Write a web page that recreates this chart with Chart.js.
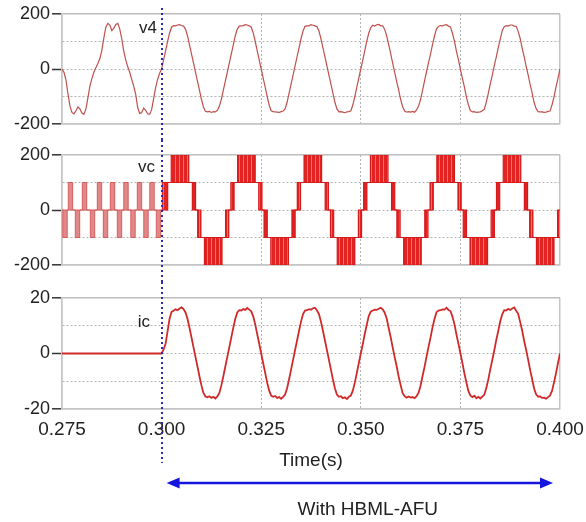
<!DOCTYPE html>
<html>
<head>
<meta charset="utf-8">
<script src="https://cdn.jsdelivr.net/npm/chart.js@4.4.0/dist/chart.umd.min.js"></script>
<style>
html,body{margin:0;padding:0;background:#fff;}
#wrap{position:relative;width:586px;height:522px;overflow:hidden;background:#fff;}
canvas{position:absolute;left:0;}
#c1{top:0;}
#c2{top:140px;}
#c3{top:282px;}
</style>
</head>
<body>
<div id="wrap">
<canvas id="c1" width="586" height="140"></canvas>
<canvas id="c2" width="586" height="142"></canvas>
<canvas id="c3" width="586" height="240"></canvas>
</div>
<script>
// ---------- data ----------
const sampleStart = 0.275;   // s, first sample of v4 / ic
const sampleStep = 0.0005;   // s, spacing of the v4 / ic samples
const timeTicks = [0.275, 0.300, 0.325, 0.350, 0.375, 0.400];
const switchTime = 0.300;
const voltTicks = [-200, -100, 0, 100, 200];
const voltLabels = [-200, 0, 200];
const currTicks = [-20, -10, 0, 10, 20];
const currLabels = [-20, 0, 20];
const panelNames = ['v4', 'vc', 'ic'];
const bottomNote = 'With HBML-AFU';
const axisTitle = 'Time(s)';

const v4Values = [
  0,-12,-40,-90,-135,-158,-163,-152,-138,-145,
  -160,-165,-145,-105,-62,-35,-12,5,20,38,
  68,112,152,166,160,140,148,162,166,145,
  110,65,33,8,-12,-38,-62,-92,-140,-162,
  -158,-142,-150,-163,-165,-148,-108,-68,-38,-15,
  0,33,66,100,131,152,158,157,160,161,
  158,156,145,121,88,55,22,-11,-44,-77,
  -110,-138,-154,-156,-154,-158,-155,-156,-150,-136,
  -110,-77,-44,-11,22,55,88,121,145,156,
  157,158,161,160,157,152,131,100,66,33,
  0,-33,-66,-100,-131,-152,-155,-156,-157,-158,
  -155,-153,-145,-121,-88,-55,-22,11,44,77,
  110,138,155,157,157,161,159,157,154,138,
  110,77,44,11,-22,-55,-88,-121,-145,-156,
  -155,-157,-159,-156,-155,-152,-131,-100,-66,-33,
  0,32,67,101,130,151,159,156,161,162,
  157,157,144,120,89,56,21,-12,-45,-76,
  -111,-137,-153,-157,-155,-157,-154,-157,-149,-135,
  -111,-78,-43,-10,23,54,89,120,146,155,
  158,157,160,161,156,153,130,101,65,34,
  -1,-34,-65,-101,-130,-151,-156,-155,-158,-157,
  -156,-152,-146,-120,-89,-54,-23,12,43,78,
  109,139,154,158,156,160,160,156,155,137,
  111,76,45,10,-21,-56,-87,-122,-144,-155,
  -156,-156,-158,-157,-154,-153,-130,-101,-65,-34,
  0
];

const icValues = [
  0,0,0,0,0,0,0,0,0,0,
  0,0,0,0,0,0,0,0,0,0,
  0,0,0,0,0,0,0,0,0,0,
  0,0,0,0,0,0,0,0,0,0,
  0,0,0,0,0,0,0,0,0,0,
  0,1.5,3.5,8,12.5,15.0,15.4,15.9,15.6,16.2,
  16.6,16.0,14.8,12.5,9.3,5.8,2.3,-1.2,-4.7,-8.2,
  -11.5,-14.2,-15.5,-15.8,-15.4,-16.0,-15.6,-16.2,-15.5,-14.2,
  -11.5,-8.2,-4.7,-1.2,2.3,5.8,9.3,12.5,14.8,15.6,
  15.5,16.0,15.7,16.4,15.8,15.2,13.4,10.5,7.0,3.5,
  0,-3.5,-7.0,-10.5,-13.4,-15.2,-15.6,-15.3,-16.0,-15.7,
  -16.3,-15.6,-14.8,-12.5,-9.3,-5.8,-2.3,1.2,4.7,8.2,
  11.5,14.2,15.5,15.6,16.0,15.8,16.3,16.5,15.5,14.2,
  11.5,8.2,4.7,1.2,-2.3,-5.8,-9.3,-12.5,-14.8,-15.6,
  -15.4,-16.1,-15.8,-16.4,-15.6,-15.2,-13.4,-10.5,-7.0,-3.5,
  0,3.4,7.1,10.4,13.5,15.1,15.5,15.8,15.7,16.1,
  16.5,15.9,14.7,12.6,9.2,5.9,2.2,-1.3,-4.6,-8.3,
  -11.4,-14.3,-15.4,-15.9,-15.5,-15.9,-15.7,-16.1,-15.4,-14.1,
  -11.6,-8.1,-4.8,-1.1,2.4,5.7,9.4,12.4,14.9,15.5,
  15.6,15.9,15.8,16.5,15.7,15.3,13.3,10.6,6.9,3.6,
  0.1,-3.4,-7.1,-10.4,-13.5,-15.1,-15.7,-15.2,-16.1,-15.6,
  -16.2,-15.5,-14.9,-12.4,-9.4,-5.7,-2.4,1.1,4.8,8.1,
  11.6,14.1,15.6,15.5,16.1,15.7,16.2,16.6,15.4,14.3,
  11.4,8.3,4.6,1.3,-2.2,-5.9,-9.2,-12.6,-14.7,-15.5,
  -15.5,-16.0,-15.9,-16.3,-15.7,-15.1,-13.5,-10.4,-7.1,-3.4,
  0
];

// vc before the switch-on: narrow +/-100 pulses (segment start, low, high)
const vcPreTime = [0.27500,0.27520,0.27630,0.27658,0.27768,0.27834,0.27944,0.28010,0.28120,
  0.28211,0.28321,0.28386,0.28496,0.28537,0.28647,0.28713,0.28823,0.28888,0.28998,
  0.29051,0.29161,0.29227,0.29337,0.29390,0.29500,0.29553,0.29663,0.29704,0.29814,
  0.29867,0.29977,0.30000];
const vcPreLow = [0,-100,0,0,0,-100,0,0,0,
  -100,0,0,0,-100,0,0,0,-100,0,
  0,0,-100,0,0,0,-100,0,0,0,
  -100,0,0];
const vcPreHigh = [0,0,0,100,0,0,0,100,0,
  0,0,100,0,0,0,100,0,0,0,
  100,0,0,0,100,0,0,0,100,0,
  0,0,0];

// vc after the switch-on: multilevel staircase (segment start, low, high)
const vcPostTime = [
  0.30000,0.30152,0.30242,0.30682,0.30772,0.30852,
  0.30906,0.30986,0.31076,0.31516,0.31606,0.31686,
  0.31739,0.31819,0.31909,0.32349,0.32439,0.32519,
  0.32572,0.32652,0.32742,0.33182,0.33272,0.33352,
  0.33406,0.33486,0.33576,0.34016,0.34106,0.34186,
  0.34239,0.34319,0.34409,0.34849,0.34939,0.35019,
  0.35072,0.35152,0.35242,0.35682,0.35772,0.35852,
  0.35906,0.35986,0.36076,0.36516,0.36606,0.36686,
  0.36739,0.36819,0.36909,0.37349,0.37439,0.37519,
  0.37572,0.37652,0.37742,0.38182,0.38272,0.38352,
  0.38406,0.38486,0.38576,0.39016,0.39106,0.39186,
  0.39239,0.39319,0.39409,0.39849,0.39939,0.40000];
const vcPostLow = [
  0,100,100,100,0,0,
  -100,-100,-200,-100,-100,0,
  0,100,100,100,0,0,
  -100,-100,-200,-100,-100,0,
  0,100,100,100,0,0,
  -100,-100,-200,-100,-100,0,
  0,100,100,100,0,0,
  -100,-100,-200,-100,-100,0,
  0,100,100,100,0,0,
  -100,-100,-200,-100,-100,0,
  0,100,100,100,0,0,
  -100,-100,-200,-100,-100,-100];
const vcPostHigh = [
  100,100,200,100,100,0,
  0,-100,-100,-100,0,0,
  100,100,200,100,100,0,
  0,-100,-100,-100,0,0,
  100,100,200,100,100,0,
  0,-100,-100,-100,0,0,
  100,100,200,100,100,0,
  0,-100,-100,-100,0,0,
  100,100,200,100,100,0,
  0,-100,-100,-100,0,0,
  100,100,200,100,100,0,
  0,-100,-100,-100,0,0];

// ---------- chart building ----------
const FONT = '"Liberation Sans", Arial, Helvetica, sans-serif';
const near = (a, b) => Math.abs(a - b) < 1e-9;
const tMin = timeTicks[0], tMax = timeTicks[timeTicks.length - 1];

function sampled(vals) { return vals.map((v, i) => ({x: sampleStart + i * sampleStep, y: v})); }
function zipped(ts, vs) { return ts.map((t, i) => ({x: t, y: vs[i]})); }

function xAxis(showLabels, height) {
  const edge = v => near(v, tMin) || near(v, tMax);
  return {
    type: 'linear', min: tMin, max: tMax,
    afterBuildTicks: s => { s.ticks = timeTicks.map(v => ({value: v})); },
    afterFit: s => { s.height = height; s.paddingLeft = 0; s.paddingRight = 0; },
    ticks: {
      display: showLabels, autoSkip: false, maxRotation: 0, minRotation: 0, padding: 9,
      color: '#222', font: {family: FONT, size: 19},
      callback: v => Number(v).toFixed(3)
    },
    grid: {
      drawTicks: false,
      color: c => !c.tick ? '#c4c4c4' : (near(c.tick.value, switchTime) ? 'rgba(0,0,0,0)' : (edge(c.tick.value) ? '#c4c4c4' : '#b2b2b2')),
      lineWidth: c => (c.tick && edge(c.tick.value)) ? 1.5 : 1
    },
    border: {display: true, color: '#c4c4c4', width: 1.5,
      dash: c => (c.tick && !edge(c.tick.value)) ? [2, 2] : []},
    title: showLabels ? {display: true, text: axisTitle, color: '#222',
      font: {family: FONT, size: 19}, padding: {top: 0, bottom: 50}} : {display: false}
  };
}

function yAxis(ticksArr, labels) {
  const lo = ticksArr[0], hi = ticksArr[ticksArr.length - 1];
  const edge = v => near(v, lo) || near(v, hi);
  return {
    type: 'linear', min: lo, max: hi,
    afterBuildTicks: s => { s.ticks = ticksArr.map(v => ({value: v})); },
    afterFit: s => { s.width = 62; },
    ticks: {
      autoSkip: false, padding: 2, color: '#222', font: {family: FONT, size: 18},
      callback: v => labels.includes(v) ? String(v) : ''
    },
    grid: {
      tickLength: 10, tickWidth: 1.5,
      tickColor: c => (c.tick && labels.includes(c.tick.value)) ? '#333' : 'rgba(0,0,0,0)',
      color: c => (c.tick && edge(c.tick.value)) ? '#bdbdbd' : '#b2b2b2',
      lineWidth: c => (c.tick && edge(c.tick.value)) ? 1.6 : 1
    },
    border: {display: true, color: '#c4c4c4', width: 1.5,
      dash: c => (c.tick && !edge(c.tick.value)) ? [2, 2] : []}
  };
}

const marker = {
  id: 'marker',
  afterDraw(chart, args, o) {
    const {ctx} = chart;
    const x = chart.scales.x, y = chart.scales.y;
    ctx.save();
    if (o.label) {
      ctx.font = '17px ' + FONT;
      ctx.fillStyle = '#222';
      ctx.textAlign = 'right';
      ctx.textBaseline = 'middle';
      ctx.fillText(o.label, x.getPixelForValue(o.lx), y.getPixelForValue(o.ly));
    }
    const px = Math.round(x.getPixelForValue(switchTime));
    ctx.strokeStyle = '#2a2ab5';
    ctx.lineWidth = 2;
    ctx.setLineDash([2, 3]);
    ctx.beginPath();
    ctx.moveTo(px, o.from);
    ctx.lineTo(px, o.to);
    ctx.stroke();
    ctx.setLineDash([]);
    if (o.arrow) {
      const xa = x.getPixelForValue(switchTime) + 5;
      const xb = x.getPixelForValue(tMax) - 7;
      const ya = o.arrowY;
      ctx.strokeStyle = '#1515e0';
      ctx.fillStyle = '#1515e0';
      ctx.lineWidth = 2.5;
      ctx.beginPath();
      ctx.moveTo(xa + 8, ya);
      ctx.lineTo(xb - 8, ya);
      ctx.stroke();
      ctx.beginPath();
      ctx.moveTo(xa, ya); ctx.lineTo(xa + 13, ya - 5.5); ctx.lineTo(xa + 13, ya + 5.5); ctx.closePath();
      ctx.fill();
      ctx.beginPath();
      ctx.moveTo(xb, ya); ctx.lineTo(xb - 13, ya - 5.5); ctx.lineTo(xb - 13, ya + 5.5); ctx.closePath();
      ctx.fill();
      ctx.font = '19px ' + FONT;
      ctx.fillStyle = '#222';
      ctx.textAlign = 'center';
      ctx.textBaseline = 'middle';
      ctx.fillText(bottomNote, x.getPixelForValue(0.35175), o.noteY);
    }
    ctx.restore();
  }
};

function stripes() {
  const c = document.createElement('canvas');
  c.width = 4; c.height = 4;
  const g = c.getContext('2d');
  g.fillStyle = '#e32222'; g.fillRect(0, 0, 4, 4);
  g.fillStyle = '#f07272'; g.fillRect(3, 0, 1, 4);
  return g.createPattern(c, 'repeat');
}

Chart.defaults.font.family = FONT;

function baseOptions(xa, ya, padTop, markerOpts) {
  return {
    responsive: false, animation: false, devicePixelRatio: 1,
    layout: {padding: {top: padTop, right: 26, bottom: 0, left: 0}},
    plugins: {legend: {display: false}, tooltip: {enabled: false}, marker: markerOpts},
    elements: {point: {radius: 0}, line: {tension: 0}},
    scales: {x: xa, y: ya}
  };
}

new Chart(document.getElementById('c1'), {
  type: 'line',
  data: {datasets: [{
    label: panelNames[0], data: sampled(v4Values),
    borderColor: '#c0504d', borderWidth: 1.2, fill: false
  }]},
  options: baseOptions(xAxis(false, 16), yAxis(voltTicks, voltLabels), 14,
    {label: panelNames[0], lx: 0.29885, ly: 147, from: 8, to: 140}),
  plugins: [marker]
});

new Chart(document.getElementById('c2'), {
  type: 'line',
  data: {datasets: [
    {label: 'vc-pre-high', data: zipped(vcPreTime, vcPreHigh), stepped: true,
      borderColor: '#d55e5e', borderWidth: 1, fill: false},
    {label: 'vc-pre-low', data: zipped(vcPreTime, vcPreLow), stepped: true,
      borderColor: '#d55e5e', borderWidth: 1, fill: '-1', backgroundColor: 'rgba(215,85,85,0.7)'},
    {label: 'vc-high', data: zipped(vcPostTime, vcPostHigh), stepped: true,
      borderColor: '#d41a1a', borderWidth: 1.2, fill: false},
    {label: 'vc-low', data: zipped(vcPostTime, vcPostLow), stepped: true,
      borderColor: '#d41a1a', borderWidth: 1.2, fill: '-1', backgroundColor: stripes()}
  ]},
  options: baseOptions(xAxis(false, 17), yAxis(voltTicks, voltLabels), 15,
    {label: panelNames[1], lx: 0.29833, ly: 155, from: 0, to: 142}),
  plugins: [marker]
});

new Chart(document.getElementById('c3'), {
  type: 'line',
  data: {datasets: [{
    label: panelNames[2], data: sampled(icValues),
    borderColor: '#cf2a2a', borderWidth: 1.8, fill: false
  }]},
  options: baseOptions(xAxis(true, 113), yAxis(currTicks, currLabels), 16,
    {label: panelNames[2], lx: 0.29709, ly: 11.2, from: 0, to: 181, arrow: true, arrowY: 201, noteY: 228}),
  plugins: [marker]
});
</script>
</body>
</html>
